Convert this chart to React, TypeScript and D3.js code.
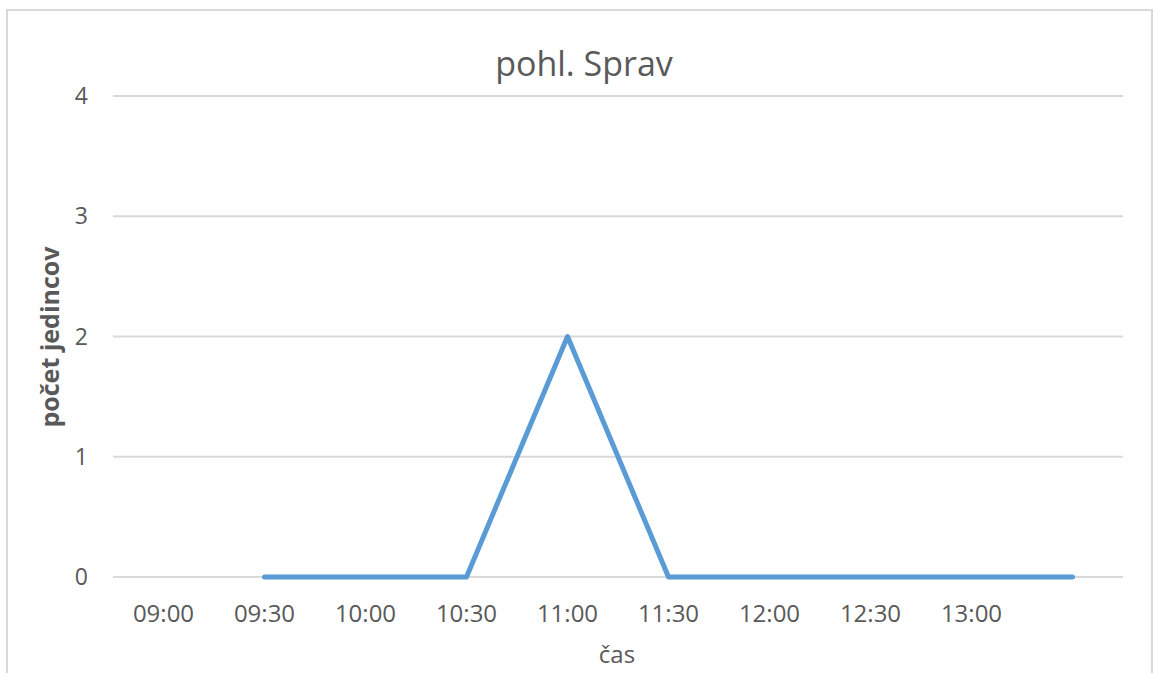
import React from "react";
import * as d3 from "d3";

const categories: string[] = ["09:00", "09:30", "10:00", "10:30", "11:00", "11:30", "12:00", "12:30", "13:00", ""];
const values: (number | null)[] = [null, 0, 0, 0, 2, 0, 0, 0, 0, 0];
const yTicks: number[] = [0, 1, 2, 3, 4];
const title = "pohl. Sprav";
const xTitle = "čas";
const yTitle = "počet jedincov";

const W = 1153;
const H = 673;
const FONT = "'Open Sans', 'Noto Sans', sans-serif";
const TXT = "#595959";

export default function App() {
  const left = 113, right = 1123, top = 96, bottom = 577;
  const x = d3.scaleBand<number>().domain(categories.map((_, i) => i)).range([left, right]);
  const cx = (i: number) => (x(i) as number) + x.bandwidth() / 2;
  const y = d3.scaleLinear().domain([0, 4]).range([bottom, top]);
  const line = d3
    .line<number | null>()
    .defined((d) => d !== null)
    .x((_, i) => cx(i))
    .y((d) => y(d as number));

  return (
    <svg width={W} height={H} style={{ position: "absolute", left: 0, top: 0, background: "#fff" }}>
      <rect x={7} y={10} width={1145} height={680} fill="#fff" stroke="#d9d9d9" strokeWidth={2} />
      <text x={584} y={76} textAnchor="middle" fontFamily={FONT} fontSize={34} fill={TXT}>
        {title}
      </text>
      {yTicks.map((t) => (
        <g key={t}>
          <line x1={left} x2={right} y1={y(t)} y2={y(t)} stroke="#d9d9d9" strokeWidth={2} />
          <text x={88} y={y(t)} dy="0.35em" textAnchor="end" fontFamily={FONT} fontSize={23} fill={TXT}>
            {t}
          </text>
        </g>
      ))}
      {categories.map((c, i) => (
        <text key={i} x={cx(i)} y={614} dy="0.35em" textAnchor="middle" fontFamily={FONT} fontSize={24} fill={TXT}>
          {c}
        </text>
      ))}
      <path
        d={line(values) || ""}
        fill="none"
        stroke="#5b9bd5"
        strokeWidth={5}
        strokeLinejoin="round"
        strokeLinecap="round"
      />
      <text x={617} y={663} textAnchor="middle" fontFamily={FONT} fontSize={24} fill={TXT}>
        {xTitle}
      </text>
      <text
        transform={`translate(59,337) rotate(-90)`}
        textAnchor="middle"
        fontFamily={FONT}
        fontSize={25}
        fontWeight="bold"
        fill={TXT}
      >
        {yTitle}
      </text>
    </svg>
  );
}
